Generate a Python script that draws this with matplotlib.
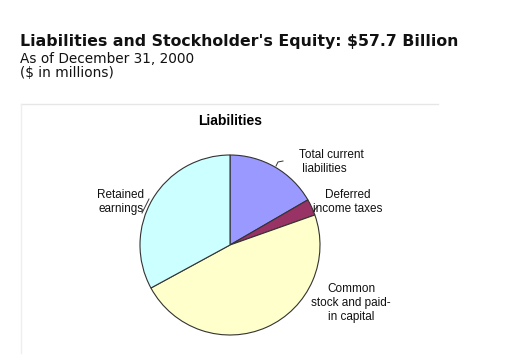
import matplotlib.pyplot as plt
from matplotlib.lines import Line2D

W, H = 505, 358

labels = ['Total current\n liabilities', 'Deferred\nincome taxes',
          'Common\nstock and paid-\nin capital', 'Retained\nearnings']
values = [9600, 1700, 27400, 19000]   # $ in millions
colors = ['#9999ff', '#993366', '#ffffcc', '#ccffff']

title = "Liabilities and Stockholder's Equity: $57.7 Billion"
subtitle = 'As of December 31, 2000'
units = '($ in millions)'
chart_title = 'Liabilities'


def fx(x):
    return x / W


def fy(y):
    return 1 - y / H


fig = plt.figure(figsize=(W / 100, H / 100), dpi=100)
fig.patch.set_facecolor('white')

# header text
fig.text(fx(20), fy(46), title, fontsize=11.3, fontweight='bold',
         family='DejaVu Sans', va='baseline', color='#111111')
fig.text(fx(20), fy(63), subtitle, fontsize=9.8, family='DejaVu Sans',
         va='baseline', color='#111111')
fig.text(fx(20), fy(77), units, fontsize=9.8, family='DejaVu Sans',
         va='baseline', color='#111111')

# faint frame of the chart box
fig.add_artist(Line2D([fx(21), fx(438)], [fy(104), fy(104)],
                      color='#e6e6e6', lw=1))
fig.add_artist(Line2D([fx(21), fx(21)], [fy(104), fy(353)],
                      color='#eeeeee', lw=1))

# pie, centre (230, 245), radius ~90 px
cx, cy, r = 230, 245, 90
ax = fig.add_axes([fx(cx - r), fy(cy + r), 2 * r / W, 2 * r / H])
ax.pie(values, colors=colors, startangle=90, counterclock=False,
       wedgeprops=dict(edgecolor='#333333', linewidth=0.8))
ax.set_xlim(-1, 1)
ax.set_ylim(-1, 1)
ax.axis('off')

fig.text(fx(230), fy(125), chart_title, fontsize=10, fontweight='bold',
         family='Liberation Sans', ha='center', va='baseline')

lab_kw = dict(fontsize=8.5, family='Liberation Sans', va='baseline',
              linespacing=1.2, color='#111111')
fig.text(fx(299), fy(172), labels[0], ha='left', **lab_kw)
fig.text(fx(348), fy(212), labels[1], ha='center', multialignment='center', **lab_kw)
fig.text(fx(351), fy(320), labels[2], ha='center', multialignment='center', **lab_kw)
fig.text(fx(121), fy(212), labels[3], ha='center', multialignment='center', **lab_kw)

# leader lines
for xs, ys in [([276, 278, 283], [166, 162, 161]),
               ([142, 149], [213, 199]),
               ([313, 317], [212, 207])]:
    fig.add_artist(Line2D([fx(v) for v in xs], [fy(v) for v in ys],
                          color='#333333', lw=0.7))

fig.savefig('out.png', dpi=100)
